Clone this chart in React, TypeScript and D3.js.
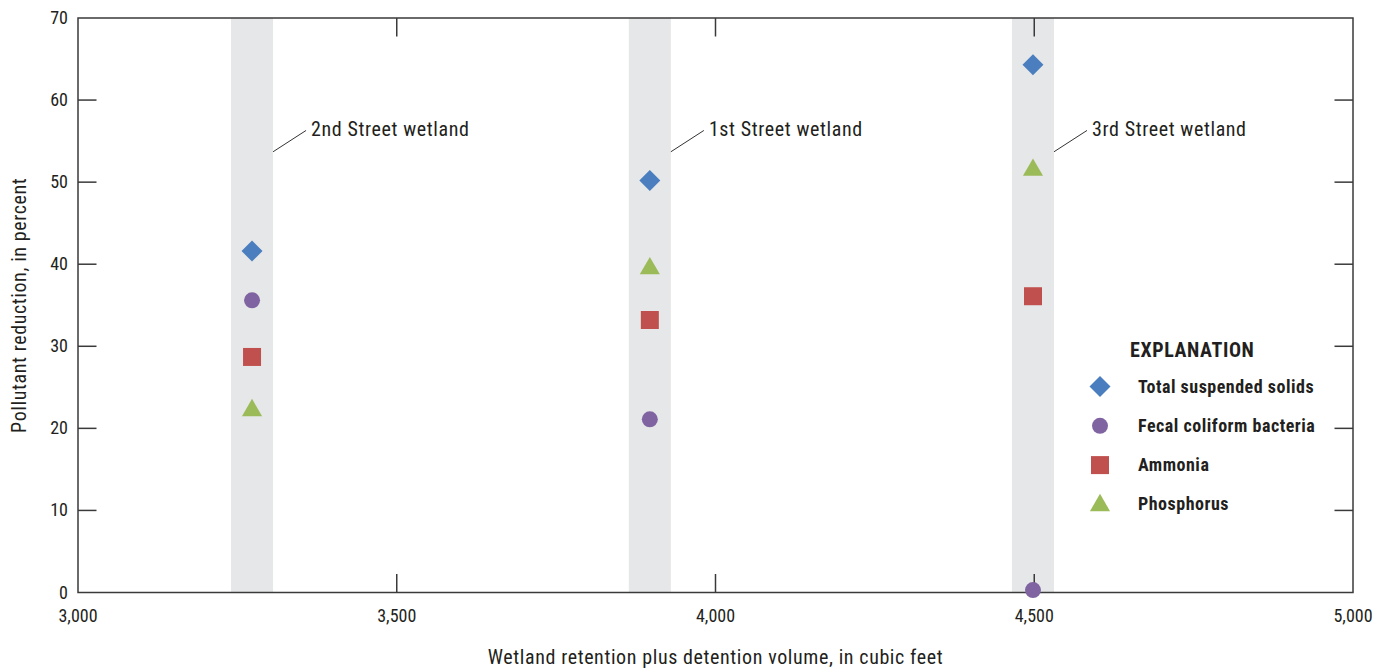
import * as d3 from 'd3';

const wetlands = ['2nd Street wetland', '1st Street wetland', '3rd Street wetland'];
const volume = [3273, 3897, 4498];
const totalSuspendedSolids = [41.6, 50.2, 64.3];
const fecalColiform = [35.6, 21.1, 0.3];
const ammonia = [28.7, 33.2, 36.1];
const phosphorus = [22.3, 39.6, 51.6];

const xTicks = [3000, 3500, 4000, 4500, 5000];
const yTicks = [0, 10, 20, 30, 40, 50, 60, 70];

const series = [
  { name: 'Total suspended solids', values: totalSuspendedSolids, shape: 'diamond', color: '#4a7ebf' },
  { name: 'Fecal coliform bacteria', values: fecalColiform, shape: 'circle', color: '#8064a2' },
  { name: 'Ammonia', values: ammonia, shape: 'square', color: '#c0504d' },
  { name: 'Phosphorus', values: phosphorus, shape: 'triangle', color: '#9bbb59' },
];

const W = 1374;
const H = 669;
const margin = { top: 18, right: 21, bottom: 76.5, left: 78 };
const font = '"Liberation Sans Narrow", "Arial Narrow", "Roboto Condensed", sans-serif';
const axisColor = '#3a3a3a';

const symbolPath = (shape: string) => {
  if (shape === 'diamond') return d3.symbol(d3.symbolSquare, 220)() as string;
  if (shape === 'circle') return d3.symbol(d3.symbolCircle, 201)() as string;
  if (shape === 'square') return d3.symbol(d3.symbolSquare, 324)() as string;
  return d3.symbol(d3.symbolTriangle, 175)() as string;
};

const Mark = ({ shape, color, x, y }: { shape: string; color: string; x: number; y: number }) => (
  <path
    d={symbolPath(shape)}
    fill={color}
    transform={`translate(${x},${y})${shape === 'diamond' ? ' rotate(45)' : ''}${shape === 'triangle' ? ' translate(0,1)' : ''}`}
  />
);

export default function App() {
  const x = d3.scaleLinear().domain([3000, 5000]).range([margin.left, W - margin.right]);
  const y = d3.scaleLinear().domain([0, 70]).range([H - margin.bottom, margin.top]);
  const fmt = d3.format(',');
  const bandHalf = 33;
  const tickLen = 18.5;

  return (
    <svg
      width={W}
      height={H}
      style={{ position: 'absolute', left: 0, top: 0, background: '#fff', fontFamily: font }}
    >
      {/* wetland bands */}
      {volume.map((v, i) => (
        <rect
          key={i}
          x={x(v - bandHalf)}
          y={y(70)}
          width={x(v + bandHalf) - x(v - bandHalf)}
          height={y(0) - y(70)}
          fill="#e6e7e8"
        />
      ))}

      {/* wetland labels */}
      {volume.map((v, i) => (
        <g key={i}>
          <line
            x1={x(v + bandHalf)}
            y1={y(53.7)}
            x2={x(v + bandHalf) + 33}
            y2={y(56.3)}
            stroke="#333"
            strokeWidth={1}
          />
          <text x={x(v + bandHalf) + 38} y={y(55.6)} fontSize={20} letterSpacing={0.6} fill="#231f20">
            {wetlands[i]}
          </text>
        </g>
      ))}

      {/* ticks */}
      {yTicks.slice(1, -1).map((t) => (
        <g key={t} stroke={axisColor} strokeWidth={1.5}>
          <line x1={x(3000)} x2={x(3000) + tickLen} y1={y(t)} y2={y(t)} />
          <line x1={x(5000)} x2={x(5000) - tickLen} y1={y(t)} y2={y(t)} />
        </g>
      ))}
      {xTicks.slice(1, -1).map((t) => (
        <g key={t} stroke={axisColor} strokeWidth={1.5}>
          <line x1={x(t)} x2={x(t)} y1={y(0)} y2={y(0) - tickLen} />
          <line x1={x(t)} x2={x(t)} y1={y(70)} y2={y(70) + tickLen} />
        </g>
      ))}

      {/* frame */}
      <rect
        x={x(3000)}
        y={y(70)}
        width={x(5000) - x(3000)}
        height={y(0) - y(70)}
        fill="none"
        stroke={axisColor}
        strokeWidth={1.5}
      />

      {/* tick labels */}
      {yTicks.map((t) => (
        <text key={t} x={x(3000) - 10} y={y(t) + 6} textAnchor="end" fontSize={18} fill="#231f20">
          {t}
        </text>
      ))}
      {xTicks.map((t) => (
        <text key={t} x={x(t)} y={y(0) + 29.5} textAnchor="middle" fontSize={18} fill="#231f20">
          {fmt(t)}
        </text>
      ))}

      {/* axis titles */}
      <text
        transform={`translate(26,${(y(0) + y(70)) / 2}) rotate(-90)`}
        textAnchor="middle"
        fontSize={20}
        letterSpacing={0.6}
        fill="#231f20"
      >
        Pollutant reduction, in percent
      </text>
      <text
        x={(x(3000) + x(5000)) / 2}
        y={664}
        textAnchor="middle"
        fontSize={20}
        letterSpacing={0.6}
        fill="#231f20"
      >
        Wetland retention plus detention volume, in cubic feet
      </text>

      {/* data points */}
      {series.map((s) =>
        s.values.map((v, i) => (
          <Mark key={s.name + i} shape={s.shape} color={s.color} x={x(volume[i])} y={y(v)} />
        ))
      )}

      {/* legend */}
      <g>
        <text x={1130} y={357} fontSize={20} letterSpacing={0.6} fontWeight="bold" fill="#231f20">
          EXPLANATION
        </text>
        {series.map((s, i) => (
          <g key={s.name} transform={`translate(1100,${386.5 + i * 39.3})`}>
            <Mark shape={s.shape} color={s.color} x={0} y={0} />
            <text x={38} y={6} fontSize={18} letterSpacing={0.5} fontWeight="bold" fill="#231f20">
              {s.name}
            </text>
          </g>
        ))}
      </g>
    </svg>
  );
}
